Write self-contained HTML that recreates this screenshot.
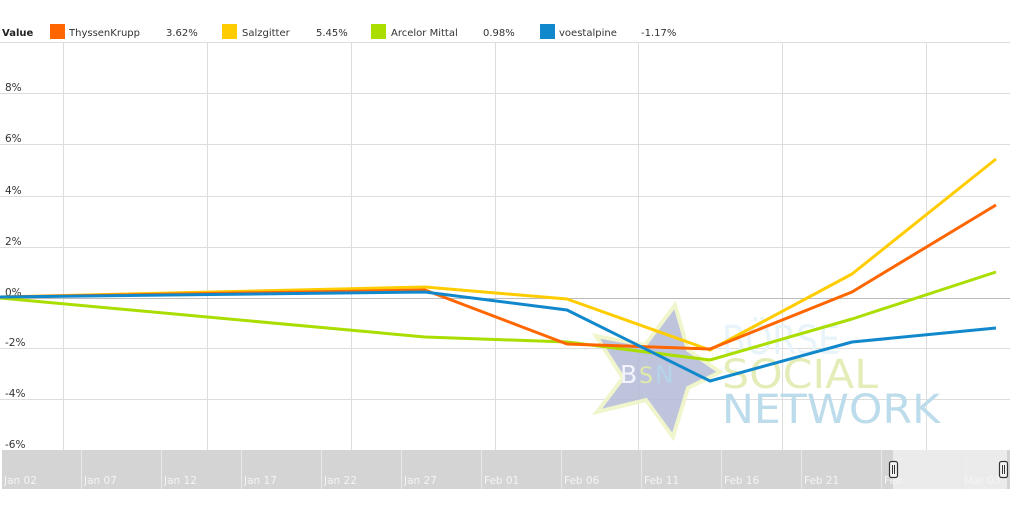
<!DOCTYPE html>
<html><head><style>
body{margin:0;background:#fff;width:1024px;height:505px;overflow:hidden;font-family:"DejaVu Sans","Liberation Sans",sans-serif;}
</style></head><body>
<svg width="1024" height="505" xmlns="http://www.w3.org/2000/svg" font-family="DejaVu Sans, Liberation Sans, sans-serif">
<rect width="1024" height="505" fill="#fff"/>
<g font-size="10" fill="#333">
<text x="2" y="36" font-weight="bold" fill="#222">Value</text>
<rect x="50" y="24" width="15" height="15" fill="#ff6600"/><text x="69" y="36">ThyssenKrupp</text><text x="166" y="36">3.62%</text>
<rect x="222" y="24" width="15" height="15" fill="#ffcc00"/><text x="242" y="36">Salzgitter</text><text x="316" y="36">5.45%</text>
<rect x="371" y="24" width="15" height="15" fill="#aadd00"/><text x="391" y="36">Arcelor Mittal</text><text x="483" y="36">0.98%</text>
<rect x="540" y="24" width="15" height="15" fill="#1188cc"/><text x="559" y="36">voestalpine</text><text x="641" y="36">-1.17%</text>
</g>
<line x1="0" y1="42.5" x2="1010" y2="42.5" stroke="#ddd"/>
<g stroke="#ddd" stroke-width="1">
<line x1="63.5" y1="43" x2="63.5" y2="450"/><line x1="207.5" y1="43" x2="207.5" y2="450"/><line x1="351.5" y1="43" x2="351.5" y2="450"/><line x1="495.5" y1="43" x2="495.5" y2="450"/><line x1="638.5" y1="43" x2="638.5" y2="450"/><line x1="782.5" y1="43" x2="782.5" y2="450"/><line x1="926.5" y1="43" x2="926.5" y2="450"/>
<line x1="0" y1="93.5" x2="1010" y2="93.5"/><line x1="0" y1="144.5" x2="1010" y2="144.5"/><line x1="0" y1="196.5" x2="1010" y2="196.5"/><line x1="0" y1="247.5" x2="1010" y2="247.5"/><line x1="0" y1="298.5" x2="1010" y2="298.5" stroke="#bbb"/><line x1="0" y1="348.5" x2="1010" y2="348.5"/><line x1="0" y1="399.5" x2="1010" y2="399.5"/>
</g>
<g font-size="10.5" fill="#333">
<text x="5" y="91">8%</text><text x="5" y="142">6%</text><text x="5" y="194">4%</text><text x="5" y="245">2%</text><text x="5" y="296">0%</text><text x="5" y="346">-2%</text><text x="5" y="397">-4%</text><text x="5" y="448">-6%</text>
</g>
<!-- watermark -->
<polygon points="675,305 688,350 720,372 688,388 673,437 646,400 597,412 623,378 596,336 645,345" fill="#b4bad8" opacity="0.85" stroke="#eef4c4" stroke-width="4"/>
<text x="620" y="383" font-size="25" fill="#f4f4ff">B</text><text x="639" y="383" font-size="22" fill="#e0eaa8">S</text><text x="655" y="383" font-size="25" fill="#b4d4ea">N</text>
<text x="722" y="354" font-size="40" fill="#e8f4fa" textLength="118" lengthAdjust="spacingAndGlyphs">BÖRSE</text>
<text x="722" y="388" font-size="40" fill="#e4edb8" textLength="156" lengthAdjust="spacingAndGlyphs">SOCIAL</text>
<text x="722" y="423" font-size="40" fill="#bcdcec" textLength="218" lengthAdjust="spacingAndGlyphs">NETWORK</text>
<g fill="none" stroke-width="3" stroke-linejoin="round">
<polyline stroke="#aadd00" points="0,298 425,337 567,342 710,360 852,319 996,272"/>
<polyline stroke="#ffcc00" points="0,297 425,287 567,299 710,350 852,274 996,159"/>
<polyline stroke="#ff6600" points="0,297 425,290 567,344 710,349 852,292 996,205"/>
<polyline stroke="#1188cc" points="0,297 425,292 567,310 710,381 852,342 996,328"/>
</g>
<rect x="2" y="450" width="1008" height="39" fill="#d4d4d4"/>
<rect x="893" y="450" width="114" height="39" fill="#ebebeb"/>
<g stroke="#e8e8e8"><line x1="81.5" y1="450" x2="81.5" y2="489"/><line x1="161.5" y1="450" x2="161.5" y2="489"/><line x1="241.5" y1="450" x2="241.5" y2="489"/><line x1="321.5" y1="450" x2="321.5" y2="489"/><line x1="401.5" y1="450" x2="401.5" y2="489"/><line x1="481.5" y1="450" x2="481.5" y2="489"/><line x1="561.5" y1="450" x2="561.5" y2="489"/><line x1="641.5" y1="450" x2="641.5" y2="489"/><line x1="721.5" y1="450" x2="721.5" y2="489"/><line x1="801.5" y1="450" x2="801.5" y2="489"/><line x1="881.5" y1="450" x2="881.5" y2="489"/><line x1="961.5" y1="450" x2="961.5" y2="489"/></g>
<g font-size="10.5" fill="#f4f4f4">
<text x="4" y="484">Jan 02</text><text x="84" y="484">Jan 07</text><text x="164" y="484">Jan 12</text><text x="244" y="484">Jan 17</text><text x="324" y="484">Jan 22</text><text x="404" y="484">Jan 27</text><text x="484" y="484">Feb 01</text><text x="564" y="484">Feb 06</text><text x="644" y="484">Feb 11</text><text x="724" y="484">Feb 16</text><text x="804" y="484">Feb 21</text><text x="884" y="484">Feb</text><text x="964" y="484">Mar 03</text>
</g>
<g fill="#f4f4f4" stroke="#333" stroke-width="1.2">
<rect x="889.5" y="461.5" width="8" height="16" rx="2"/><rect x="999.5" y="461.5" width="8" height="16" rx="2"/>
</g>
<g stroke="#333"><line x1="892.5" y1="465" x2="892.5" y2="474"/><line x1="894.5" y1="465" x2="894.5" y2="474"/><line x1="1002.5" y1="465" x2="1002.5" y2="474"/><line x1="1004.5" y1="465" x2="1004.5" y2="474"/></g>
</svg>
</body></html>
